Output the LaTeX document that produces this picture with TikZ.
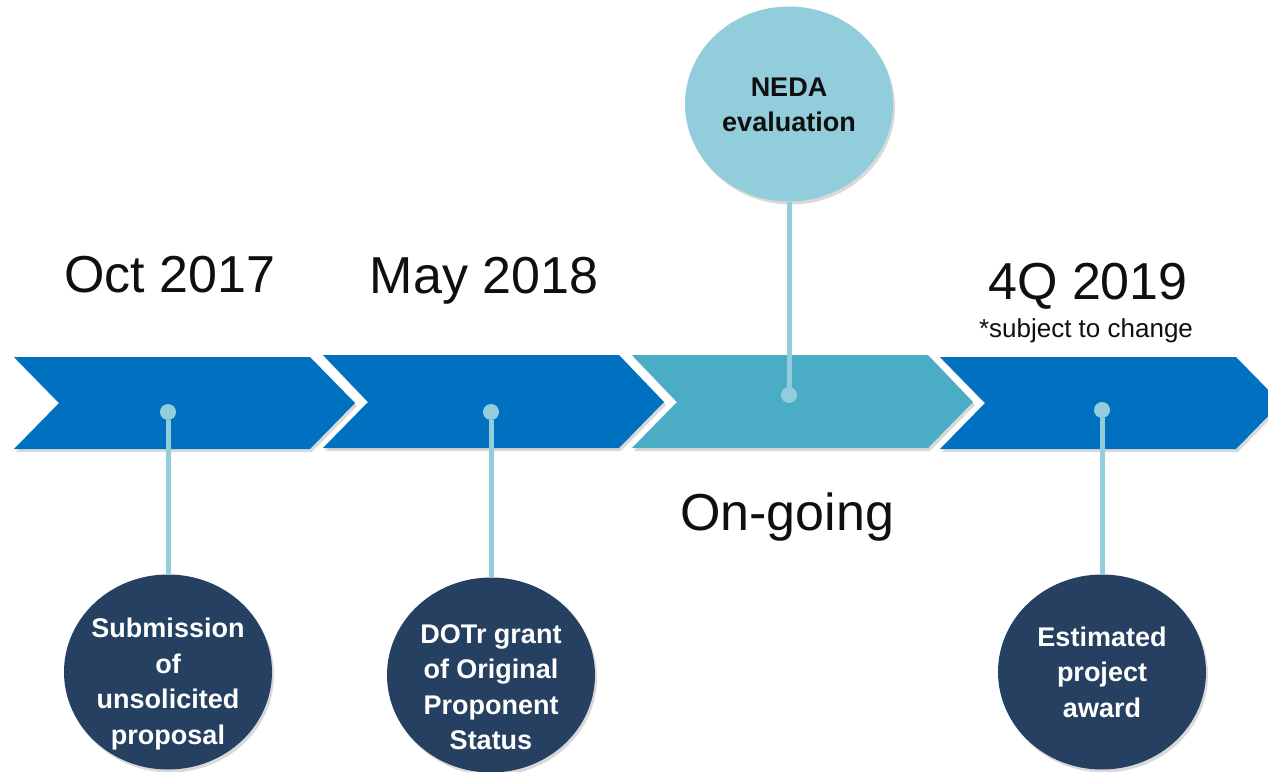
\documentclass[tikz,border=0pt]{standalone}
\usepackage{fontspec}
\setmainfont{Liberation Sans}
\usetikzlibrary{shapes.geometric,shadows}

\definecolor{chevblue}{RGB}{0,112,192}
\definecolor{chevteal}{RGB}{75,172,198}
\definecolor{stemblue}{RGB}{146,205,220}
\definecolor{navy}{RGB}{38,64,97}
\definecolor{ink}{RGB}{15,15,15}

\tikzset{
  soft/.style={drop shadow={shadow xshift=2bp, shadow yshift=-3bp, opacity=0.3}},
  bubble/.style={ellipse, minimum width=208bp, minimum height=195bp, inner sep=0pt, soft},
  bubbletext/.style={align=center, inner sep=0pt, font=\fontsize{27bp}{35.5bp}\selectfont\bfseries},
  dot/.style={circle, fill=stemblue, minimum size=16bp, inner sep=0pt},
  stem/.style={draw=stemblue, line width=5bp},
  date/.style={anchor=base, inner sep=0pt, text=ink, font=\fontsize{52bp}{60bp}\selectfont},
  note/.style={anchor=base, inner sep=0pt, text=ink, font=\fontsize{26bp}{30bp}\selectfont}
}

\begin{document}
\begin{tikzpicture}[x=1bp, y=-1bp]
\useasboundingbox (0,0) rectangle (1268,772);
\clip (0,0) rectangle (1268,772);
% the four chevrons of the timeline
\fill[chevblue, soft] (14,357) -- (310,357) -- (355,403) -- (310,449) -- (14,449) -- (59,403) -- cycle;
\fill[chevblue, soft] (323,355) -- (619,355) -- (664,402) -- (619,448) -- (323,448) -- (368,402) -- cycle;
\fill[chevteal, soft] (632,355) -- (928,355) -- (973,402) -- (928,448) -- (632,448) -- (677,402) -- cycle;
\fill[chevblue, soft] (940,357) -- (1236,357) -- (1281,403) -- (1236,449) -- (940,449) -- (985,403) -- cycle;
% dates
\node[date] (oct) at (170,292) {Oct 2017};
\node[date] (may) at (484,293) {May 2018};
\node[date] (fourq) at (1088,299) {4Q 2019};
\node[note] (subj) at (1086,337) {*subject to change};
\node[date] (ongo) at (787,530) {On-going};
% markers on the chevrons
\node[dot] (d1) at (168,412) {};
\node[dot] (d2) at (491,412) {};
\node[dot] (d3) at (789,395) {};
\node[dot] (d4) at (1102,410) {};
% milestones
\node[bubble, fill=navy] (c1) at (168,672) {};
\node[bubble, fill=navy] (c2) at (491,675) {};
\node[bubble, fill=stemblue] (c3) at (789,104) {};
\node[bubble, fill=navy] (c4) at (1102,672) {};
\node[bubbletext, text=white] (t1) at (168,684) {Submission\\of\\unsolicited\\proposal};
\node[bubbletext, text=white] (t2) at (491,687) {DOTr grant\\of Original\\Proponent\\Status};
\node[bubbletext, text=ink] (t3) at (789,105) {NEDA\\evaluation};
\node[bubbletext, text=white] (t4) at (1102,672) {Estimated\\project\\award};
\path[stem] (d1) -- (c1);
\path[stem] (d2) -- (c2);
\path[stem] (d3) -- (c3);
\path[stem] (d4) -- (c4);
\end{tikzpicture}
\end{document}
